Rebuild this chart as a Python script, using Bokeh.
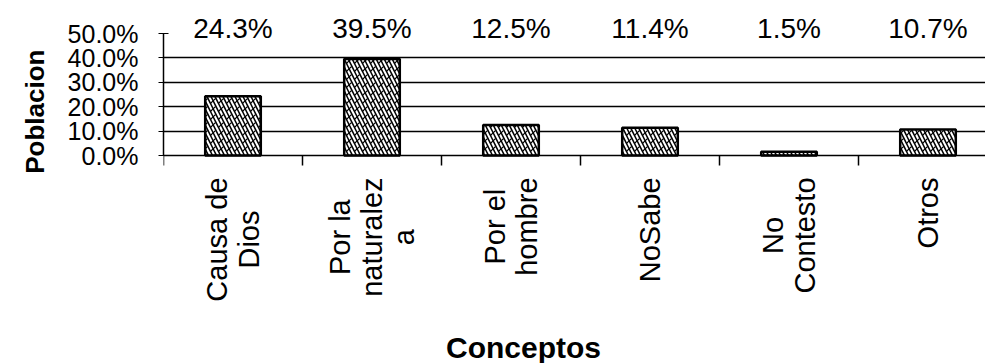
import math
from bokeh.plotting import figure
from bokeh.models import (Range1d, FixedTicker, PrintfTickFormatter, ColumnDataSource,
                          LabelSet, Title, Span)
from bokeh.core.properties import value
from bokeh.embed import file_html
from bokeh.resources import INLINE

# ---- data ----
categories = ["Causa de\nDios", "Por la\nnaturalez\na", "Por el\nhombre",
              "NoSabe", "No\nContesto", "Otros"]
values = [24.3, 39.5, 12.5, 11.4, 1.5, 10.7]
value_labels = ["24.3%", "39.5%", "12.5%", "11.4%", "1.5%", "10.7%"]
y_ticks = [0, 10, 20, 30, 40, 50]
x_title = "Conceptos"
y_title = "Poblacion"

# ---- layout (screen pixels) ----
FONT = "Liberation Sans"
W, H = 985, 363
FRAME_L = 163              # x of the y axis
Y0_PX, YMAX_PX = 155, 33   # screen y of 0% and of 50%
SLOT = 139                 # px per category
CAT_LABEL_TOP = 177        # screen y where category labels start
CAT_FONT_PX = 29
CAT_LINE_PX = 32
TICK_LEN = 10
XTITLE_CX, XTITLE_MID = 523, 347

# approximate advance widths (Arial / Liberation Sans, per 1000 em)
ADV = {" ": 278, "a": 556, "b": 556, "c": 500, "d": 556, "e": 556, "h": 556,
       "i": 222, "l": 222, "m": 833, "n": 556, "o": 556, "r": 333, "s": 500,
       "t": 278, "u": 556, "z": 500, "C": 722, "D": 722, "N": 722, "O": 778,
       "P": 667, "S": 667}


def text_px(s, size):
    return sum(ADV.get(ch, 556) for ch in s) * size / 1000.0


n = len(categories)
xs = list(range(1, n + 1))
x_start = 0.5
x_end = x_start + (W - FRAME_L) / SLOT
y_max = y_ticks[-1]
ppu = (Y0_PX - YMAX_PX) / (y_max - y_ticks[0])
y_top = y_max + YMAX_PX / ppu
y_bot = y_ticks[0] - (H - Y0_PX) / ppu

p = figure(width=W, height=H, output_backend="svg", toolbar_location=None,
           x_range=Range1d(x_start, x_end), y_range=Range1d(y_bot, y_top),
           min_border_left=FRAME_L, min_border_right=0, min_border_top=0,
           min_border_bottom=0)
p.outline_line_color = None
p.background_fill_color = "white"
p.border_fill_color = "white"
p.xaxis.visible = False

src = ColumnDataSource(dict(x=xs, top=values, lab=value_labels, ly=[y_max] * n))

# grid
p.xgrid.visible = False
p.ygrid.ticker = FixedTicker(ticks=y_ticks[1:-1])
p.ygrid.grid_line_color = "black"
p.ygrid.grid_line_width = 1.5

# bars: woven hatch made of two overlaid hatch layers
p.vbar(x="x", top="top", width=0.4, source=src, fill_color="white",
       line_color=None, hatch_pattern="left_diagonal_line",
       hatch_color="black", hatch_scale=8, hatch_weight=1.5)
p.vbar(x="x", top="top", width=0.4, source=src, fill_alpha=0,
       line_color="black", line_width=2.5, hatch_pattern="right_diagonal_dash",
       hatch_color="black", hatch_scale=8, hatch_weight=1.2)

# category axis baseline and boundary ticks
p.add_layout(Span(location=y_ticks[0], dimension="width", line_color="black",
                  line_width=1.5))
bounds = [x - 0.5 for x in xs] + [xs[-1] + 0.5]
p.segment(x0=bounds, y0=[y_ticks[0]] * len(bounds), x1=bounds,
          y1=[y_ticks[0] - TICK_LEN / ppu] * len(bounds),
          line_color="black", line_width=1.5)

# category labels: rotated, each line centred on the block
lx, ly_, lt = [], [], []
for cx, cat in zip(xs, categories):
    lines = cat.split("\n")
    k = len(lines)
    longest = max(text_px(s, CAT_FONT_PX) for s in lines)
    cy_px = CAT_LABEL_TOP + longest / 2.0
    for j, s in enumerate(lines):
        lx.append(cx + (j - (k - 1) / 2.0) * CAT_LINE_PX / SLOT)
        ly_.append(y_ticks[0] - (cy_px - Y0_PX) / ppu)
        lt.append(s)
p.text(x=lx, y=ly_, text=lt, angle=math.pi / 2, text_align="center",
       text_baseline="middle", text_font=value(FONT),
       text_font_size=f"{CAT_FONT_PX}px", text_color="black")

# x title
p.text(x=[x_start + (XTITLE_CX - FRAME_L) / SLOT],
       y=[y_ticks[0] - (XTITLE_MID - Y0_PX) / ppu], text=[x_title],
       text_align="center", text_baseline="middle", text_font=value(FONT),
       text_font_size="30px", text_font_style="bold", text_color="black")

# y axis
p.yaxis.ticker = FixedTicker(ticks=y_ticks)
p.yaxis.bounds = (y_ticks[0], y_max)
p.yaxis.formatter = PrintfTickFormatter(format="%.1f%%")
p.yaxis.major_label_text_font = FONT
p.yaxis.major_label_text_font_size = "25px"
p.yaxis.major_label_text_color = "black"
p.yaxis.major_tick_in = 5
p.yaxis.major_tick_out = 5
p.yaxis.minor_tick_line_color = None
p.yaxis.axis_line_width = 1.5
p.yaxis.major_label_standoff = 20

# value labels above bars
p.add_layout(LabelSet(x="x", y="ly", text="lab", source=src, text_align="center",
                      text_baseline="alphabetic", y_offset=-4,
                      text_font=value(FONT), text_font_size="28px",
                      text_color="black"))

# y title
p.add_layout(Title(text=y_title, align="right", offset=49, standoff=30,
                   text_font=FONT, text_font_size="26px", text_font_style="bold",
                   text_color="black"), "left")

open("out.html", "w").write(file_html(p, INLINE))
